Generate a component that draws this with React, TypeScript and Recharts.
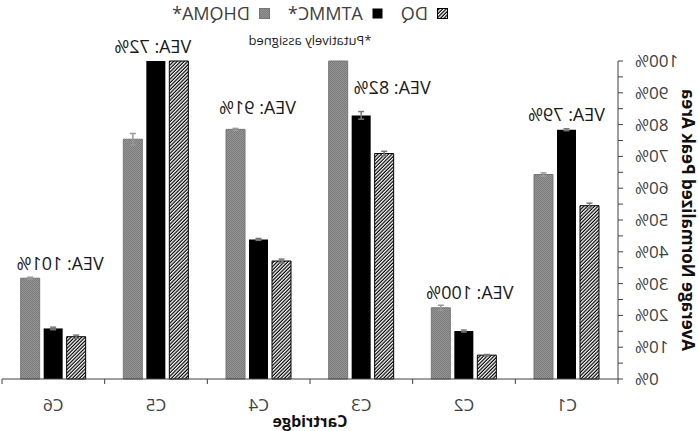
import React from 'react';
import { BarChart, Bar, XAxis, YAxis, ErrorBar, LabelList, Legend } from 'recharts';

const categories = ['C1', 'C2', 'C3', 'C4', 'C5', 'C6'];
const dq = [54.5, 7.5, 70.9, 37.1, 100, 13.3];
const atmmc = [78.4, 15.1, 82.9, 43.9, 100, 15.9];
const dhqma = [64.3, 22.4, 100, 78.5, 75.4, 31.7];
const dqErr = [0.8, 0.2, 0.7, 0.6, 0, 0.5];
const atmmcErr = [0.3, 0.3, 1.2, 0.3, 0, 0.4];
const dhqmaErr = [0.5, 0.8, 0, 0.3, 1.8, 0.3];
const veaLabels = ['VEA: 79%', 'VEA: 100%', 'VEA: 82%', 'VEA: 91%', 'VEA: 72%', 'VEA: 101%'];
const yTicks = [0, 5, 10, 15, 20, 25, 30, 35, 40, 45, 50, 55, 60, 65, 70, 75, 80, 85, 90, 95, 100];

// label nudges in px (layout only)
const veaNudge = [
  { dx: 0, dy: -16 },
  { dx: -6, dy: -16 },
  { dx: -31, dy: 26 },
  { dx: 1, dy: -22 },
  { dx: 3, dy: -15 },
  { dx: -7, dy: -15 },
];

const data = categories.map((c, i) => ({
  cartridge: c,
  dq: dq[i],
  dqErr: dqErr[i],
  atmmc: atmmc[i],
  atmmcErr: atmmcErr[i],
  dhqma: dhqma[i],
  dhqmaErr: dhqmaErr[i],
}));

const FONT = '"Open Sans", "Liberation Sans", sans-serif';
const TXT = '#404040';
const BAR = 19;
const GAP = 4;
const BAND = (699 - 81 - 2) / 6;

const CatTick = (props: any) => {
  const { x, y, payload, index } = props;
  return (
    <g>
      <line x1={x - BAND / 2} x2={x - BAND / 2} y1={y} y2={y + 5} stroke={TXT} />
      {index === categories.length - 1 && (
        <line x1={x + BAND / 2} x2={x + BAND / 2} y1={y} y2={y + 5} stroke={TXT} />
      )}
      <text x={x} y={y + 25} textAnchor="middle" dominantBaseline="central" fill={TXT}
        style={{ fontFamily: FONT, fontSize: 17 }}>
        {payload.value}
      </text>
    </g>
  );
};

const renderVea = (props: any) => {
  const index = props.index;
  const vb = props.viewBox ?? props;
  const { x, y, width, height } = vb;
  const k = height / dhqma[index];
  const base = y + height;
  const top = Math.max(dq[index], atmmc[index], dhqma[index]);
  const cx = x + width / 2 - (BAR + GAP) + veaNudge[index].dx;
  const cy = base - top * k + veaNudge[index].dy;
  return (
    <text x={cx} y={cy} textAnchor="middle" dominantBaseline="central" fill="#1a1a1a"
      style={{ fontFamily: FONT, fontSize: 18 }}>
      {veaLabels[index]}
    </text>
  );
};

const renderYLabel = (props: any) => {
  const vb = props.viewBox;
  const cx = vb.x + 11;
  const cy = vb.y + vb.height / 2;
  return (
    <text x={cx} y={cy} transform={`rotate(-90, ${cx}, ${cy})`} textAnchor="middle"
      dominantBaseline="central" fill="#111"
      style={{ fontFamily: '"Open Sans", Arial, sans-serif', fontSize: 17, fontWeight: 700 }}>
      Average Normalized Peak Area
    </text>
  );
};

const renderXLabel = (props: any) => {
  const vb = props.viewBox;
  return (
    <text x={vb.x + vb.width / 2} y={vb.y + 42} textAnchor="middle" dominantBaseline="central"
      fill="#111" style={{ fontFamily: '"Open Sans", Arial, sans-serif', fontSize: 16, fontWeight: 700 }}>
      Cartridge
    </text>
  );
};

const Swatch = ({ fill, stroke }: { fill: string; stroke?: string }) => (
  <svg width={11} height={11} style={{ display: 'block' }}>
    <rect x={0.5} y={0.5} width={10} height={10} fill={fill} stroke={stroke ?? 'none'} />
  </svg>
);

const renderLegend = () => {
  const item = (icon: React.ReactNode, label: string) => (
    <div style={{ display: 'flex', alignItems: 'center', gap: 9 }}>
      {icon}
      <span>{label}</span>
    </div>
  );
  return (
    <div style={{ height: 59, fontFamily: FONT, color: TXT }}>
      <div style={{ display: 'flex', justifyContent: 'center', gap: 18, fontSize: 18, lineHeight: '22px' }}>
        {item(<Swatch fill="url(#hatch)" stroke="#000" />, 'DQ')}
        {item(<Swatch fill="#000" />, 'ATMMC*')}
        {item(<Swatch fill="url(#grayTex)" stroke="#777" />, 'DHQMA*')}
      </div>
      <div style={{ textAlign: 'center', fontSize: 13, marginTop: 7, color: '#222' }}>
        *Putatively assigned
      </div>
    </div>
  );
};

export default function App() {
  return (
    <div style={{ position: 'absolute', left: 0, top: 0, width: 699, height: 431, background: '#fff', transform: 'scaleX(-1)' }}>
      <BarChart width={699} height={431} data={data} barSize={BAR} barGap={GAP}
        margin={{ top: 2, right: 2, left: 0, bottom: 0 }}>
        <defs>
          <pattern id="hatch" patternUnits="userSpaceOnUse" width={2.5} height={2.5} patternTransform="rotate(-45)">
            <rect width={2.5} height={2.5} fill="#fff" />
            <line x1={0.6} y1={0} x2={0.6} y2={2.5} stroke="#000" strokeWidth={1.2} />
          </pattern>
          <pattern id="grayTex" patternUnits="userSpaceOnUse" width={2} height={2}>
            <rect width={2} height={2} fill="#969696" />
            <rect width={1} height={1} fill="#7a7a7a" />
            <rect x={1} y={1} width={1} height={1} fill="#7a7a7a" />
          </pattern>
        </defs>
        <Legend verticalAlign="top" content={renderLegend}
          wrapperStyle={{ left: 81, width: 616 }} />
        <XAxis dataKey="cartridge" height={52} tickLine={false} tickSize={0} tickMargin={0}
          tick={<CatTick />} stroke={TXT} interval={0}
          label={{ content: renderXLabel }} />
        <YAxis width={81} domain={[0, 100]} ticks={yTicks} interval={0} tickSize={5} tickMargin={12}
          stroke={TXT} tickFormatter={(v: number) => (v % 10 === 0 ? `${v}%` : '')}
          tick={{ fill: TXT, fontFamily: FONT, fontSize: 17 }}
          label={{ content: renderYLabel }} />
        <Bar dataKey="dq" fill="url(#hatch)" stroke="#000" strokeWidth={1} isAnimationActive={false}>
          <ErrorBar dataKey="dqErr" width={3} stroke="#777" />
        </Bar>
        <Bar dataKey="atmmc" fill="#000" isAnimationActive={false}>
          <ErrorBar dataKey="atmmcErr" width={3} stroke="#777" />
        </Bar>
        <Bar dataKey="dhqma" fill="url(#grayTex)" stroke="#777" strokeWidth={1} isAnimationActive={false}>
          <ErrorBar dataKey="dhqmaErr" width={3} stroke="#999" />
          <LabelList dataKey="dhqma" content={renderVea} />
        </Bar>
      </BarChart>
    </div>
  );
}
